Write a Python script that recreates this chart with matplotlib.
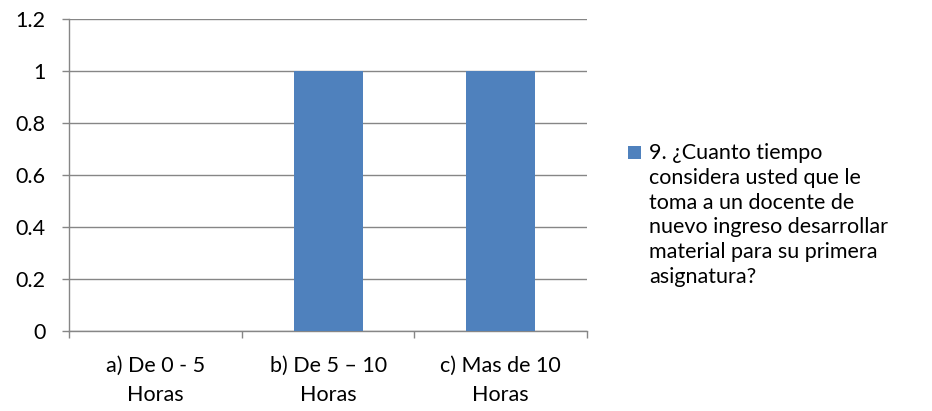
import matplotlib
matplotlib.use("Agg")
import matplotlib.pyplot as plt
import numpy as np

plt.rcParams["font.family"] = ["Lato", "DejaVu Sans"]

# Data
categories = ["a) De 0 - 5\nHoras", "b) De 5 \u2013 10\nHoras", "c) Mas de 10\nHoras"]
values = [0, 1, 1]
series_label = ("9. \u00bfCuanto tiempo\nconsidera usted que le\ntoma a un docente de\n"
                "nuevo ingreso desarrollar\nmaterial para su primera\nasignatura?")
yticks = [0, 0.2, 0.4, 0.6, 0.8, 1.0, 1.2]
ytick_labels = ["0", "0.2", "0.4", "0.6", "0.8", "1", "1.2"]

BAR = "#4F81BD"
GRID = "#868686"
FS = 15.5

fig = plt.figure(figsize=(9.32, 4.11), dpi=100)
ax = fig.add_axes([0.074, 0.1946, 0.556, 0.758])

x = np.arange(len(categories))
ax.bar(x, values, width=0.4, color=BAR, label=series_label, zorder=3)

ax.set_xlim(-0.5, len(categories) - 0.5)
ax.set_ylim(0, 1.2)
ax.set_yticks(yticks)
ax.set_yticklabels(ytick_labels)
ax.yaxis.grid(True, color=GRID, linewidth=1.0, zorder=0)

ax.set_xticks(x)
ax.set_xticklabels(categories, linespacing=1.55)
ax.set_xticks(np.arange(-0.5, len(categories), 1.0), minor=True)
ax.tick_params(axis="x", which="major", length=0, pad=18, labelsize=FS, colors="black")
ax.tick_params(axis="x", which="minor", length=5, width=1, color=GRID)
ax.tick_params(axis="y", length=5, width=1, color=GRID, pad=12, labelsize=FS)

for side in ("top", "right"):
    ax.spines[side].set_visible(False)
for side in ("left", "bottom"):
    ax.spines[side].set_color(GRID)
    ax.spines[side].set_linewidth(1.0)

LS = 1.3
leg = fig.legend(loc="center left", bbox_to_anchor=(0.674, 0.477), frameon=False,
                 fontsize=FS, handlelength=0.6, handleheight=0.6,
                 handletextpad=0.37, borderaxespad=0, borderpad=0)
for t in leg.get_texts():
    t.set_linespacing(LS)
# put the swatch next to the first line of the wrapped label
handle = leg.legend_handles[0]
handle.set_y(handle.get_y() + 2.5 * LS * FS * 0.9)

fig.savefig("out.png", dpi=100)
